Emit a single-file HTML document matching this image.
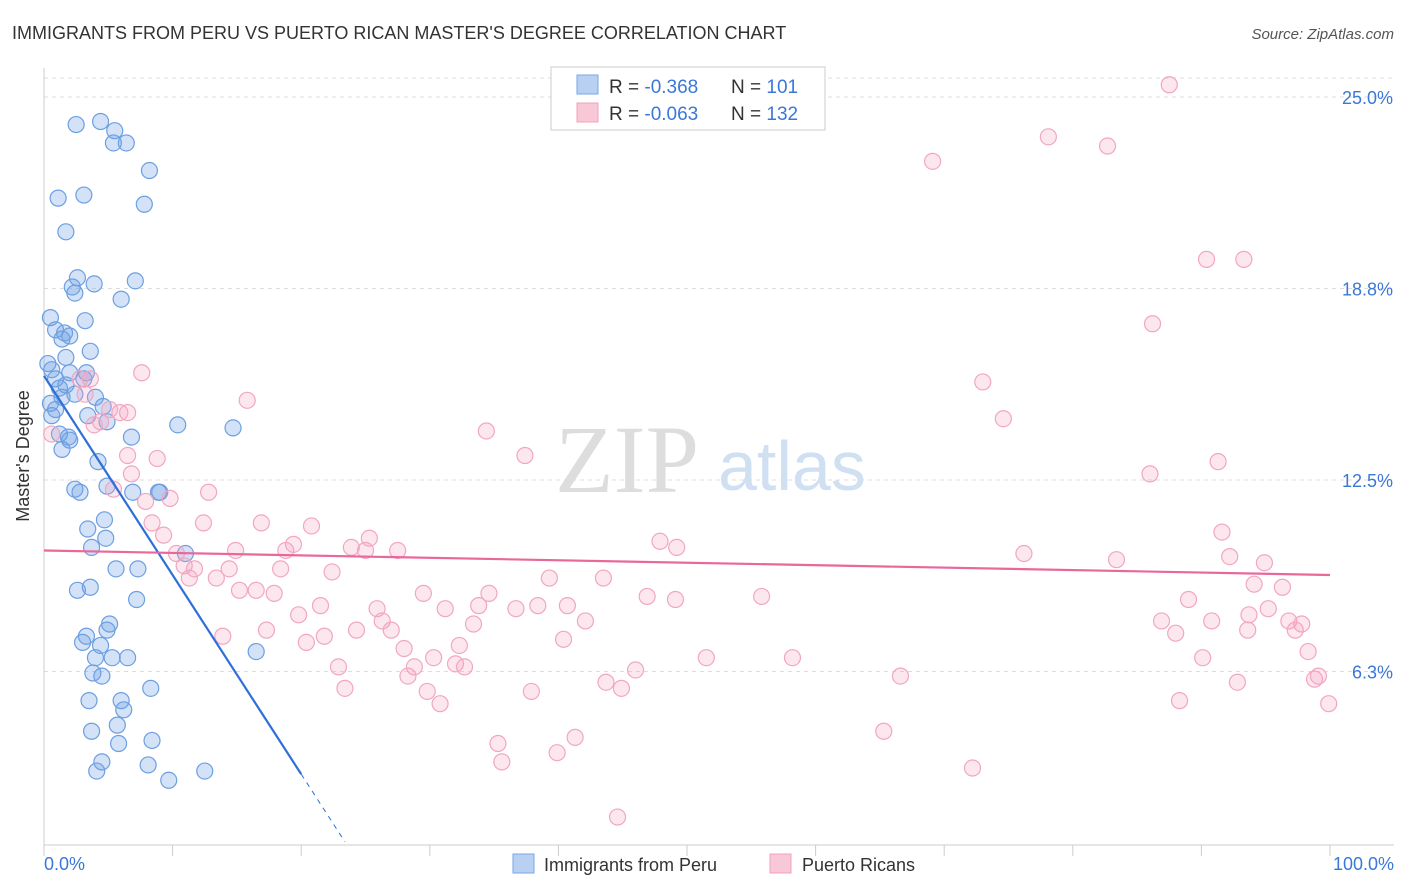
<!DOCTYPE html>
<html><head><meta charset="utf-8"><style>
body{margin:0;background:#fff;font-family:"Liberation Sans",sans-serif;}
svg{display:block}
</style></head><body>
<svg id="chart" width="1406" height="892">
<text x="12" y="39" font-size="18" fill="#333">IMMIGRANTS FROM PERU VS PUERTO RICAN MASTER'S DEGREE CORRELATION CHART</text>
<text x="1394" y="39" font-size="15" fill="#555" text-anchor="end" font-style="italic">Source: ZipAtlas.com</text>
<text x="555" y="492" font-size="96" fill="#ddd" font-family="Liberation Serif,serif">ZIP</text>
<text x="718" y="490" font-size="70" fill="#cfe0f3">atlas</text>
<g id="grid"></g><g id="axes"></g><g id="pts"></g><g id="lines"></g>
<text x="29" y="456" font-size="18" fill="#333" text-anchor="middle" transform="rotate(-90 29 456)">Master's Degree</text>
<text x="44" y="870" font-size="18" fill="#3a78d8">0.0%</text>
<text x="1394" y="870" font-size="18" fill="#3a78d8" text-anchor="end">100.0%</text>
<g>
<rect x="551" y="67" width="274" height="63" fill="#fff" stroke="#ccc"/>
<rect x="577" y="75" width="21" height="19" fill="#b8d1f3" stroke="#7aa6e6"/>
<rect x="577" y="103" width="21" height="19" fill="#f8c8d7" stroke="#f0a0bc"/>
<text x="609" y="93" font-size="19" fill="#333">R = <tspan fill="#3a78d8">-0.368</tspan></text>
<text x="731" y="93" font-size="19" fill="#333">N = <tspan fill="#3a78d8">101</tspan></text>
<text x="609" y="120" font-size="19" fill="#333">R = <tspan fill="#3a78d8">-0.063</tspan></text>
<text x="731" y="120" font-size="19" fill="#333">N = <tspan fill="#3a78d8">132</tspan></text>
</g>
<g>
<rect x="513" y="854" width="21" height="19" fill="#b8d1f3" stroke="#7aa6e6"/>
<text x="544" y="871" font-size="18" fill="#333">Immigrants from Peru</text>
<rect x="770" y="854" width="21" height="19" fill="#f8c8d7" stroke="#f0a0bc"/>
<text x="802" y="871" font-size="18" fill="#333">Puerto Ricans</text>
</g>
</svg>
<script>
const yTicks=[6.25,12.5,18.75,25];
const yTickLabels=["6.3%","12.5%","18.8%","25.0%"];
const xTicks=[0,10,20,30,40,50,60,70,80,90,100];
const peruX=[2.5,4.4,5.5,5.4,6.4,8.2,1.1,3.1,7.8,1.7,2.6,2.2,3.9,7.1,2.4,6.0,0.5,3.2,0.9,1.6,2.0,1.4,3.6,1.7,0.3,0.6,2.0,3.3,0.9,1.7,3.1,1.2,2.4,4.0,1.4,0.5,0.9,4.6,3.4,0.6,4.9,10.4,14.7,1.2,1.9,2.0,6.8,1.4,4.2,2.4,2.8,4.9,6.9,8.9,9.0,4.7,3.4,4.8,3.7,11.0,5.6,7.3,3.6,2.6,7.2,5.1,4.9,3.0,3.3,4.4,4.0,5.3,6.5,16.5,3.8,4.5,8.3,3.5,6.0,6.2,5.7,3.7,5.8,8.4,4.5,4.1,8.1,9.7,12.5];
const peruY=[24.1,24.2,23.9,23.5,23.5,22.6,21.7,21.8,21.5,20.6,19.1,18.8,18.9,19.0,18.6,18.4,17.8,17.7,17.4,17.3,17.2,17.1,16.7,16.5,16.3,16.1,16.0,16.0,15.8,15.6,15.8,15.5,15.3,15.2,15.2,15.0,14.8,14.9,14.6,14.6,14.4,14.3,14.2,14.0,13.9,13.8,13.9,13.5,13.1,12.2,12.1,12.3,12.1,12.1,12.1,11.2,10.9,10.6,10.3,10.1,9.6,9.6,9.0,8.9,8.6,7.8,7.6,7.2,7.4,7.1,6.7,6.7,6.7,6.9,6.2,6.1,5.7,5.3,5.3,5.0,4.5,4.3,3.9,4.0,3.3,3.0,3.2,2.7,3.0];
const prX=[87.5,78.1,82.7,69.1,90.4,93.3,86.2,7.6,73.0,15.8,74.6,34.4,6.5,5.9,2.8,3.6,3.2,0.6,4.4,5.1,3.9,37.4,6.5,8.8,86.0,91.3,6.8,5.4,12.8,9.8,7.9,8.4,12.4,16.9,20.8,9.3,91.6,25.3,19.4,23.9,25.0,27.5,18.8,10.3,14.9,47.9,49.2,76.2,83.4,92.2,94.9,10.9,11.7,14.4,18.4,22.4,11.3,13.4,39.3,43.5,15.2,16.5,17.9,29.5,34.6,94.1,96.3,46.9,49.1,55.8,89.0,21.5,25.9,31.2,33.8,36.7,38.4,40.7,95.2,19.8,93.7,26.3,33.4,42.1,86.9,90.8,17.3,24.3,27.0,88.0,93.6,96.8,97.8,97.3,13.9,21.8,20.4,40.4,32.3,28.0,98.3,30.3,51.5,58.2,90.1,32.0,32.7,22.9,28.8,46.0,28.3,66.6,99.1,98.8,43.7,44.9,92.8,23.4,29.8,37.9,30.8,88.3,99.9,65.3,41.3,35.3,39.9,35.6,72.2,44.6];
const prY=[25.4,23.7,23.4,22.9,19.7,19.7,17.6,16.0,15.7,15.1,14.5,14.1,14.7,14.7,15.8,15.8,15.3,14.0,14.4,14.8,14.3,13.3,13.3,13.2,12.7,13.1,12.7,12.2,12.1,11.9,11.8,11.1,11.1,11.1,11.0,10.7,10.8,10.6,10.4,10.3,10.2,10.2,10.2,10.1,10.2,10.5,10.3,10.1,9.9,10.0,9.8,9.7,9.6,9.6,9.6,9.5,9.3,9.3,9.3,9.3,8.9,8.9,8.8,8.8,8.8,9.1,9.0,8.7,8.6,8.7,8.6,8.4,8.3,8.3,8.4,8.3,8.4,8.4,8.3,8.1,8.1,7.9,7.8,7.9,7.9,7.9,7.6,7.6,7.6,7.5,7.6,7.9,7.8,7.6,7.4,7.4,7.2,7.3,7.1,7.0,6.9,6.7,6.7,6.7,6.7,6.5,6.4,6.4,6.4,6.3,6.1,6.1,6.1,6.0,5.9,5.7,5.9,5.7,5.6,5.6,5.2,5.3,5.2,4.3,4.1,3.9,3.6,3.3,3.1,1.5];
const peruTrend=[15.9,2.9];      // values at x=0 and x=20
const peruTrendEnd=23.4;
const prTrend=[10.2,9.4];        // values at x=0 and x=100
const NS="http://www.w3.org/2000/svg";
const X=v=>44+v*12.86, Y=v=>863-v*30.64;
function mk(p,t,a){const e=document.createElementNS(NS,t);for(const k in a)e.setAttribute(k,a[k]);p.appendChild(e);return e;}
const grid=document.getElementById('grid'),axes=document.getElementById('axes'),pts=document.getElementById('pts'),lines=document.getElementById('lines');
const topLine=mk(grid,'line',{x1:44,x2:1394,y1:78,y2:78,stroke:'#ddd','stroke-dasharray':'4 4'});


yTicks.forEach((t,i)=>{
 const g=mk(grid,'line',{x1:44,x2:1394,y1:Y(t),y2:Y(t),stroke:'#ddd','stroke-dasharray':'4 4'});
 
 
 const l=mk(grid,'text',{x:1393,y:Y(t)+7,'font-size':18,fill:'#3a78d8','text-anchor':'end'});
 l.textContent=yTickLabels[i];
 
 
});
const xa=mk(axes,'line',{x1:44,x2:1394,y1:845,y2:845,stroke:'#ccc'});


const ya=mk(axes,'line',{x1:44,x2:44,y1:68,y2:845,stroke:'#ccc'});


xTicks.forEach(t=>{
 const k=mk(axes,'line',{x1:X(t),x2:X(t),y1:845,y2:856,stroke:'#ccc'});
 
 
});
peruX.forEach((x,i)=>{
 const c=mk(pts,'circle',{cx:X(x),cy:Y(peruY[i]),r:8,fill:'rgba(110,160,230,0.3)',stroke:'#6c9fe2','stroke-width':1.2});
 
 
});
prX.forEach((x,i)=>{
 const c=mk(pts,'circle',{cx:X(x),cy:Y(prY[i]),r:8,fill:'rgba(245,160,190,0.25)',stroke:'#f2a6c0','stroke-width':1.2});
 
 
});
const slope=(peruTrend[1]-peruTrend[0])/20;
const b1=mk(lines,'line',{x1:X(0),y1:Y(peruTrend[0]),x2:X(20),y2:Y(peruTrend[1]),stroke:'#2f6fd8','stroke-width':2.2});


const b2=mk(lines,'line',{x1:X(20),y1:Y(peruTrend[1]),x2:X(peruTrendEnd),y2:Y(peruTrend[0]+slope*peruTrendEnd),stroke:'#2f6fd8','stroke-width':1,'stroke-dasharray':'5 5'});


const p1=mk(lines,'line',{x1:X(0),y1:Y(prTrend[0]),x2:X(100),y2:Y(prTrend[1]),stroke:'#e8689a','stroke-width':2.2});


</script>
</body></html>
